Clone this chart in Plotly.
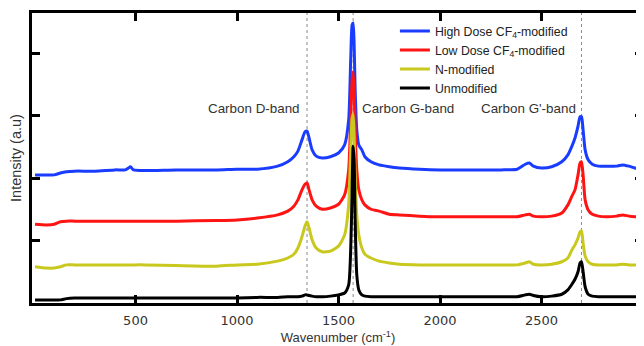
import plotly.graph_objects as go

# Wavenumber grid (cm^-1)
wavenumber = [5, 60, 100, 130, 160, 200, 300, 400, 450, 465, 475, 490, 550, 700, 900, 1000,
              1100, 1200, 1250, 1280, 1300, 1320, 1335, 1345, 1355, 1370, 1390, 1420, 1460,
              1500, 1530, 1550, 1560, 1567, 1572, 1577, 1582, 1590, 1600, 1615, 1630, 1660,
              1700, 1750, 1800, 1900, 2000, 2100, 2200, 2300, 2380, 2420, 2440, 2460, 2500,
              2550, 2600, 2630, 2650, 2665, 2680, 2690, 2697, 2705, 2715, 2730, 2750, 2780,
              2820, 2870, 2900, 2930, 2960, 3000]

high_dose = [2.05, 2.05, 2.05, 2.08, 2.10, 2.11, 2.11, 2.13, 2.13, 2.16, 2.18, 2.13, 2.12, 2.13, 2.13, 2.14,
             2.14, 2.19, 2.26, 2.34, 2.43, 2.61, 2.74, 2.75, 2.64, 2.45, 2.35, 2.32, 2.34,
             2.40, 2.53, 2.93, 3.89, 4.45, 4.48, 4.13, 3.41, 2.77, 2.53, 2.45, 2.34, 2.26,
             2.21, 2.18, 2.16, 2.14, 2.13, 2.13, 2.13, 2.13, 2.14, 2.22, 2.24, 2.19, 2.16,
             2.18, 2.26, 2.37, 2.51, 2.64, 2.83, 2.98, 2.98, 2.77, 2.45, 2.29, 2.22, 2.19,
             2.19, 2.19, 2.21, 2.19, 2.16, 2.13]

low_dose = [1.26, 1.25, 1.26, 1.30, 1.31, 1.31, 1.31, 1.31, 1.31, 1.31, 1.31, 1.31, 1.31, 1.31, 1.32, 1.33,
            1.36, 1.41, 1.47, 1.55, 1.65, 1.81, 1.90, 1.92, 1.81, 1.65, 1.55, 1.50, 1.52,
            1.58, 1.73, 2.13, 2.93, 3.57, 3.70, 3.41, 2.77, 2.13, 1.81, 1.65, 1.57, 1.50,
            1.47, 1.42, 1.41, 1.39, 1.38, 1.38, 1.38, 1.38, 1.38, 1.41, 1.42, 1.39, 1.38,
            1.39, 1.44, 1.57, 1.71, 1.81, 2.05, 2.24, 2.26, 2.05, 1.65, 1.49, 1.42, 1.39,
            1.38, 1.39, 1.41, 1.39, 1.38, 1.38]

n_modified = [0.58, 0.56, 0.56, 0.58, 0.61, 0.61, 0.61, 0.61, 0.61, 0.61, 0.61, 0.61, 0.61, 0.60, 0.59, 0.61,
              0.62, 0.67, 0.72, 0.78, 0.88, 1.06, 1.23, 1.30, 1.20, 1.01, 0.88, 0.82, 0.83,
              0.91, 1.09, 1.57, 2.45, 2.96, 3.02, 2.69, 2.05, 1.41, 1.09, 0.88, 0.78, 0.72,
              0.67, 0.64, 0.62, 0.61, 0.61, 0.61, 0.61, 0.61, 0.61, 0.64, 0.66, 0.62, 0.61,
              0.62, 0.66, 0.72, 0.85, 0.93, 1.04, 1.14, 1.15, 0.96, 0.75, 0.66, 0.62, 0.61,
              0.61, 0.61, 0.62, 0.61, 0.61, 0.61]

unmodified = [0.05, 0.05, 0.05, 0.05, 0.07, 0.08, 0.08, 0.08, 0.08, 0.08, 0.08, 0.08, 0.08, 0.08, 0.08, 0.08,
              0.09, 0.09, 0.10, 0.10, 0.10, 0.11, 0.13, 0.13, 0.12, 0.11, 0.10, 0.10, 0.11,
              0.13, 0.16, 0.29, 0.85, 1.80, 2.51, 2.29, 1.33, 0.45, 0.21, 0.13, 0.11, 0.10,
              0.10, 0.10, 0.10, 0.10, 0.10, 0.10, 0.10, 0.10, 0.10, 0.13, 0.14, 0.12, 0.10,
              0.11, 0.14, 0.21, 0.30, 0.38, 0.50, 0.64, 0.66, 0.50, 0.26, 0.14, 0.11, 0.10,
              0.10, 0.10, 0.10, 0.10, 0.10, 0.10]

series_names = ["High Dose CF<sub>4</sub>-modified", "Low Dose CF<sub>4</sub>-modified",
                "N-modified", "Unmodified"]
series_colors = ["#1a3cff", "#ff1414", "#c9c81e", "#000000"]

band_positions = [1345, 1572, 2697]
band_labels = ["Carbon D-band", "Carbon G-band", "Carbon G'-band"]
band_label_x = [1083, 1842, 2435]
band_label_y = 3.12

x_ticks = [500, 1000, 1500, 2000, 2500]
y_ticks = [1, 2, 3, 4]

FONT = "Liberation Sans, Arial, sans-serif"
TICKFONT = "DejaVu Sans, Verdana, sans-serif"

fig = go.Figure()

for pos in band_positions:
    fig.add_shape(type="line", x0=pos, x1=pos, y0=0, y1=1, xref="x", yref="paper",
                  line=dict(color="#8a8a8a", width=1, dash="dot"), layer="below")

for name, col, ys in zip(series_names, series_colors,
                         [high_dose, low_dose, n_modified, unmodified]):
    fig.add_trace(go.Scatter(x=wavenumber, y=ys, mode="lines", name=name,
                             line=dict(color=col, width=3, shape="spline", smoothing=0.6)))

# invisible trace to anchor the right-side tick axis
fig.add_trace(go.Scatter(x=[1000], y=[1], yaxis="y2", mode="markers", opacity=0,
                         showlegend=False, hoverinfo="skip"))

for lbl, lx in zip(band_labels, band_label_x):
    fig.add_annotation(x=lx, y=band_label_y, text=lbl, showarrow=False, xref="x", yref="y",
                       font=dict(family=FONT, size=13.4, color="#333333"))

fig.update_layout(
    template="none",
    width=636, height=338,
    margin=dict(l=24, r=0, t=5, b=43, pad=0),
    paper_bgcolor="white", plot_bgcolor="white",
    font=dict(family=FONT, size=12, color="#333333"),
    showlegend=True,
    legend=dict(x=0.593, y=0.988, xanchor="left", yanchor="top",
                bgcolor="rgba(0,0,0,0)", borderwidth=0,
                font=dict(family=FONT, size=12.3, color="#222222"),
                itemwidth=30, tracegroupgap=0),
    xaxis=dict(range=[-10, 3005], tickvals=x_ticks, ticks="inside", ticklen=8, tickwidth=2.5,
               tickcolor="black", showline=True, linewidth=3, linecolor="black",
               mirror="ticks", showgrid=False, zeroline=False, automargin=False,
               ticklabelstandoff=3,
               tickfont=dict(family=TICKFONT, size=13, color="#333333"),
               title=dict(text="Wavenumber (cm<sup>-1</sup>)", standoff=7,
                          font=dict(family=FONT, size=13, color="#333333"))),
    yaxis=dict(range=[0, 4.64], tickvals=y_ticks, ticks="inside", ticklen=8, tickwidth=2.5,
               tickcolor="black", showline=True, linewidth=3, linecolor="black",
               showticklabels=False, showgrid=False, zeroline=False, automargin=False,
               title=dict(text="Intensity (a.u)", standoff=4.5,
                          font=dict(family=FONT, size=14.5, color="#333333"))),
    yaxis2=dict(range=[0, 4.64], tickvals=y_ticks, ticks="inside", ticklen=9, tickwidth=2.5,
                tickcolor="black", overlaying="y", side="right", showline=False,
                showticklabels=False, showgrid=False, zeroline=False, automargin=False),
)

fig.write_html("out.html")
